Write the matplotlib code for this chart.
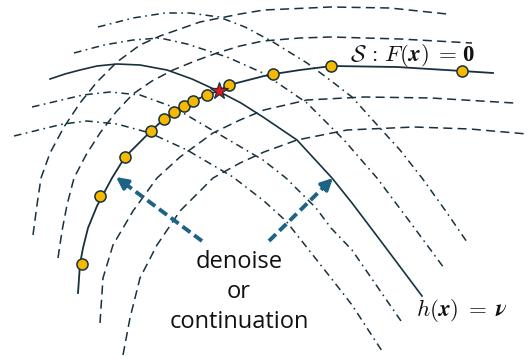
import matplotlib
matplotlib.use("Agg")
import matplotlib.pyplot as plt

plt.rcParams['mathtext.fontset'] = 'cm'
plt.rcParams['lines.scale_dashes'] = False

ink = '#17313e'
gold = '#f7b900'
arrow_col = '#1c6384'

# solution curve S : F(x) = 0 (pixel coordinates of the picture)
s_x = [78, 80, 83, 88, 97, 112, 125, 151, 164, 174, 184, 193, 207, 218, 229, 264, 274, 300, 332, 397, 462, 493]
s_y = [293, 264, 248, 228, 206, 178, 157, 131, 119, 112, 106, 101, 95, 91, 85, 76, 74, 70, 66, 67, 71, 73]

# samples on S and the intersection point
pts_x = [82, 100, 125, 151, 164, 174, 184, 193, 207, 229, 273, 331, 462]
pts_y = [264, 196, 157, 131, 119, 112, 106, 101, 95, 85, 74, 66, 71]
star_x, star_y = [219], [91]

# constraint curve h(x) = nu
h_x = [50, 65, 80, 97, 117, 140, 167, 192, 218, 241, 263, 297, 332, 352, 380, 422]
h_y = [79, 74, 70, 66, 64, 65, 70, 79, 91, 103, 117, 140, 178, 203, 240, 296]

# dashed level sets of F
a_x = [33, 37, 41, 50, 64, 80, 97, 117, 140, 160, 200, 240, 264, 331, 390, 447]
a_y = [235, 205, 178, 153, 127, 103, 82, 62, 45, 36, 22, 14, 10, 7, 8, 14]
b_x = [58, 62, 67, 74, 86, 100, 116, 133, 152, 173, 195, 217, 240, 263, 300, 331, 400, 472]
b_y = [258, 231, 205, 178, 155, 133, 112, 94, 81, 70, 61, 53, 46, 41, 38, 37, 39, 43]
c_x = [100, 103, 113, 133, 157, 180, 213, 240, 264, 307, 364, 431, 514]
c_y = [323, 278, 245, 211, 178, 157, 133, 120, 110, 100, 97, 98, 103]
d_x = [123, 130, 140, 157, 180, 213, 240, 264, 297, 347, 414, 470, 527]
d_y = [355, 318, 278, 245, 211, 178, 163, 152, 140, 130, 127, 129, 134]

# dash-dot level sets of h
e_x = [98, 133, 165, 190, 219, 245, 273, 307, 330, 352, 379, 400, 422, 445, 467]
e_y = [27, 18, 13, 13, 17, 27, 42, 63, 80, 97, 127, 150, 178, 210, 242]
f_x = [74, 104, 133, 160, 187, 227, 263, 307, 344, 377, 410, 444]
f_y = [53, 45, 40, 38, 44, 57, 73, 103, 140, 178, 222, 268]
g_x = [32, 83, 110, 140, 173, 217, 263, 286, 316, 331, 352, 401]
g_y = [107, 95, 92, 95, 107, 133, 160, 178, 208, 228, 250, 321]
k_x = [14, 63, 87, 117, 150, 187, 233, 264, 286, 331, 352, 382]
k_y = [136, 124, 121, 124, 133, 150, 177, 201, 221, 278, 305, 351]

# arrows: tail -> tip
arrow_tail = [(202, 241), (269, 241)]
arrow_tip = [(116, 177), (333, 178)]

label_lines = ['denoise', 'or', 'continuation']
label_base = [268, 298, 328]

fig = plt.figure(figsize=(5.29, 3.56), dpi=100)
ax = fig.add_axes([0, 0, 1, 1])
ax.set_xlim(0, 529)
ax.set_ylim(356, 0)
ax.axis('off')

dashed = (0, (6.5, 3.8))
dashdot = (0, (5.5, 3.2, 1.2, 3.2))
for xs, ys in [(a_x, a_y), (b_x, b_y), (c_x, c_y), (d_x, d_y)]:
    ax.plot(xs, ys, color=ink, lw=1.1, linestyle=dashed)
for xs, ys in [(e_x, e_y), (f_x, f_y), (g_x, g_y), (k_x, k_y)]:
    ax.plot(xs, ys, color=ink, lw=1.1, linestyle=dashdot)

ax.plot(h_x, h_y, color=ink, lw=1.2)
ax.plot(s_x, s_y, color=ink, lw=1.3)
ax.plot(pts_x, pts_y, 'o', ms=8, mfc=gold, mec=ink, mew=1.1, zorder=5)
ax.plot(star_x, star_y, '*', ms=13, mfc='#e8131b', mec=ink, mew=0.9, zorder=6)

for (x0, y0), (x1, y1) in zip(arrow_tail, arrow_tip):
    # dashed shaft, stopping just short of the tip
    fx = x0 + (x1 - x0) * 0.88
    fy = y0 + (y1 - y0) * 0.88
    ax.plot([x0, fx], [y0, fy], color=arrow_col, lw=2.8,
            linestyle=(0, (7, 3.5)), solid_capstyle='butt', dash_capstyle='butt')
    ax.annotate('', xy=(x1, y1), xytext=(fx, fy),
                arrowprops=dict(arrowstyle='-|>,head_length=0.7,head_width=0.35',
                                color=arrow_col, lw=2.5, shrinkA=0, shrinkB=0))

for txt, yy in zip(label_lines, label_base):
    ax.text(239, yy, txt, ha='center', va='baseline', fontsize=17,
            family='Open Sans', color='#111111')

ax.text(350, 61, r'$\mathcal{S}\,:\,F(\mathbfit{x})\;=$', fontsize=16.5,
        ha='left', va='baseline', color='#111111')
# bold zero vector (mathtext cm has no bold digits)
ax.text(462, 61, '0', fontsize=16.5, family='Liberation Serif', weight='bold',
        ha='left', va='baseline', color='#111111')
ax.text(416, 316, r'$h(\mathbfit{x})\;=\;\mathbfit{\nu}$', fontsize=16.5,
        ha='left', va='baseline', color='#111111')

fig.savefig('out.png', dpi=100)
